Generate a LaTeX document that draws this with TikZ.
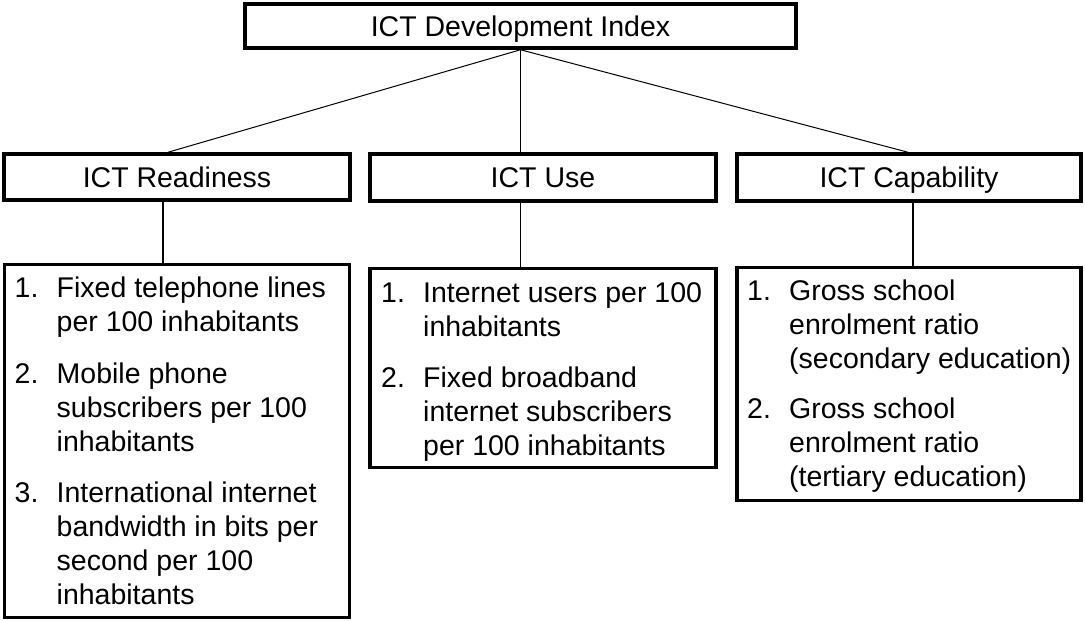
\documentclass[tikz,border=0pt]{standalone}
\usepackage{fontspec}
\setmainfont{Liberation Sans}
\newcommand{\ictnum}[2]{\makebox[42pt][l]{#1}\parbox[t]{320pt}{#2}}
\begin{document}
\begin{tikzpicture}[x=1pt,y=-1pt,
  every node/.style={font=\fontsize{28.5}{34}\selectfont},
  hbox/.style={draw, line width=3.5pt, rectangle, inner sep=0pt, text height=20.4pt, text depth=0pt},
  lbox/.style={draw, line width=3.5pt, rectangle, inner sep=0pt},
  entry/.style={anchor=base west, inner sep=0pt},
  thin/.style={line width=1pt},
  vline/.style={line width=1.6pt}]
\useasboundingbox (0,0) rectangle (1085,621);
% header boxes
\node[hbox, minimum width=551pt, minimum height=44pt] (top) at (520.5,26) {ICT Development Index};
\node[hbox, minimum width=346pt, minimum height=46pt] (r) at (177,177) {ICT Readiness};
\node[hbox, minimum width=346pt, minimum height=47pt] (u) at (543,177.5) {ICT Use};
\node[hbox, minimum width=344pt, minimum height=47pt] (c) at (909,177.5) {ICT Capability};
% list boxes
\node[lbox, minimum width=345pt, minimum height=353pt] (rl) at (177,441) {};
\node[lbox, minimum width=346pt, minimum height=199pt] (ul) at (543,368) {};
\node[lbox, minimum width=344pt, minimum height=233pt] (cl) at (909,384) {};
% entries
\node[entry] (r1) at (14.5,297) {\ictnum{1.}{Fixed telephone lines\\per 100 inhabitants}};
\node[entry] (r2) at (14.5,383) {\ictnum{2.}{Mobile phone\\subscribers per 100\\inhabitants}};
\node[entry] (r3) at (14.5,502) {\ictnum{3.}{International internet\\bandwidth in bits per\\second per 100\\inhabitants}};
\node[entry] (u1) at (381,302) {\ictnum{1.}{Internet users per 100\\inhabitants}};
\node[entry] (u2) at (381,387) {\ictnum{2.}{Fixed broadband\\internet subscribers\\per 100 inhabitants}};
\node[entry] (c1) at (747,300) {\ictnum{1.}{Gross school\\enrolment ratio\\(secondary education)}};
\node[entry] (c2) at (747,418) {\ictnum{2.}{Gross school\\enrolment ratio\\(tertiary education)}};
% connectors
\draw[thin] (top.south) -- ([xshift=-9pt]r.north);
\draw[thin] (top.south) -- ([xshift=-1pt]c.north);
\draw[vline] (top.south) -- (u.north -| top.south);
\draw[vline] ([xshift=-14pt]r.south) -- ([xshift=-14pt]rl.north);
\draw[vline] (u.south -| top.south) -- (ul.north -| top.south);
\draw[vline] ([xshift=4pt]c.south) -- ([xshift=4pt]cl.north);
\end{tikzpicture}
\end{document}
